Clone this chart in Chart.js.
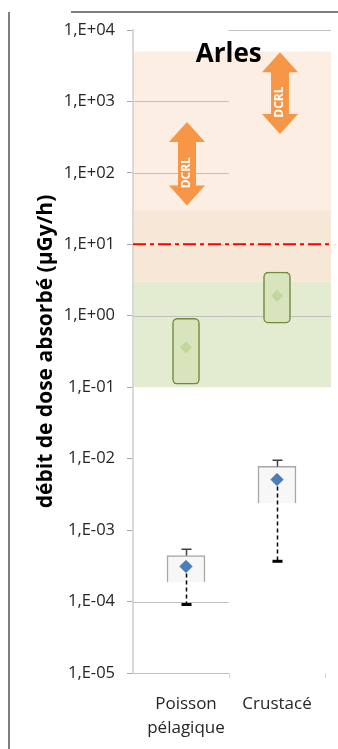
<!DOCTYPE html>
<html>
<head>
<meta charset="utf-8">
<script src="https://cdn.jsdelivr.net/npm/chart.js@4.4.0/dist/chart.umd.min.js"></script>
<style>
  body { margin: 0; background: #fff; }
  #box { width: 338px; height: 749px; position: relative; }
</style>
</head>
<body>
<div id="box"><canvas id="myChart"></canvas></div>
<script>
// categories et graduations
const categories = [['Poisson', 'pélagique'], ['Crustacé']]
const yTicks = [1e-5, 1e-4, 1e-3, 1e-2, 1e-1, 1, 10, 100, 1000, 10000]

// boites vertes (haut)
const greenLow = [0.11, 0.79]
const greenHigh = [0.92, 4.1]
const greenMean = [0.36, 1.9]

// boites grises (bas) + barres d'erreur
const boxLow = [1.86e-4, 2.37e-3]
const boxHigh = [4.4e-4, 7.8e-3]
const meanValues = [3.1e-4, 5.1e-3]
const errMax = [5.4e-4, 9.5e-3]
const errMin = [9.1e-5, 3.66e-4]

// fleches DCRL
const dcrlLow = [35, 350]
const dcrlHigh = [515, 4900]

// niveau de reference (ligne rouge)
const refLevel = 10

// bandes de fond [bas, haut]
const bands = [[30, 5000], [3, 30], [0.1, 3]]
const bandColors = ['#FDEEE3', '#F6E7D6', '#E3EBD1']

// lignes de grille (moitie gauche / moitie droite)
const gridLeft = [1000, 100, 1, 1e-4, 1e-5]
const gridRight = [10000, 1]

const xMin = 0.4176
const xMax = 2.5934
const xSplit = 1.47

function formatExp(v) {
    let e = Math.round(Math.log10(v))
    let signe = e < 0 ? '-' : '+'
    return '1,E' + signe + String(Math.abs(e)).padStart(2, '0')
}

function drawArrow(ctx, xc, yTop, yBot) {
    ctx.save()
    ctx.fillStyle = '#F79646'
    ctx.beginPath()
    ctx.moveTo(xc, yTop)
    ctx.lineTo(xc + 18, yTop + 20)
    ctx.lineTo(xc + 9, yTop + 20)
    ctx.lineTo(xc + 9, yBot - 20)
    ctx.lineTo(xc + 18, yBot - 20)
    ctx.lineTo(xc, yBot)
    ctx.lineTo(xc - 18, yBot - 20)
    ctx.lineTo(xc - 9, yBot - 20)
    ctx.lineTo(xc - 9, yTop + 20)
    ctx.lineTo(xc - 18, yTop + 20)
    ctx.closePath()
    ctx.fill()
    // texte DCRL
    ctx.translate(xc, (yTop + yBot) / 2 + 9)
    ctx.rotate(-Math.PI / 2)
    ctx.fillStyle = '#fff'
    ctx.font = 'bold 12px "Open Sans"'
    ctx.textAlign = 'center'
    ctx.textBaseline = 'middle'
    ctx.fillText('DCRL', 0, 0)
    ctx.restore()
}

const dessins = {
    id: 'dessins',
    beforeDatasetsDraw(chart) {
        const { ctx, chartArea, scales: { x, y } } = chart
        ctx.save()
        // bandes
        bands.forEach((b, i) => {
            let top = y.getPixelForValue(b[1])
            let bot = y.getPixelForValue(b[0])
            ctx.fillStyle = bandColors[i]
            ctx.fillRect(chartArea.left + 1, top, chartArea.right - chartArea.left - 1, bot - top)
        })
        // grille
        ctx.strokeStyle = '#BFBFBF'
        ctx.lineWidth = 1
        let mid = x.getPixelForValue(xSplit)
        gridLeft.forEach(v => {
            let py = Math.round(y.getPixelForValue(v)) + 0.5
            ctx.beginPath()
            ctx.moveTo(chartArea.left, py)
            ctx.lineTo(mid, py)
            ctx.stroke()
        })
        gridRight.forEach(v => {
            let py = Math.round(y.getPixelForValue(v)) + 0.5
            ctx.beginPath()
            ctx.moveTo(mid, py)
            ctx.lineTo(chartArea.right, py)
            ctx.stroke()
        })
        // petites marques sous l'axe x
        ctx.strokeStyle = '#D9D9D9'
        ;[xSplit, xMax - 0.07].forEach(v => {
            let px = Math.round(x.getPixelForValue(v)) + 0.5
            ctx.beginPath()
            ctx.moveTo(px, chartArea.bottom)
            ctx.lineTo(px, chartArea.bottom + 5)
            ctx.stroke()
        })
        ctx.restore()
    },
    afterDatasetDraw(chart, args) {
        // barres d'erreur apres les boites grises
        if (args.index !== 1) return
        const { ctx, scales: { x, y } } = chart
        ctx.save()
        categories.forEach((c, i) => {
            let px = Math.round(x.getPixelForValue(i + 1)) + 0.5
            let yTopBox = y.getPixelForValue(boxHigh[i])
            let yMax = y.getPixelForValue(errMax[i])
            let yMean = y.getPixelForValue(meanValues[i])
            let yMin = y.getPixelForValue(errMin[i])
            ctx.strokeStyle = '#404040'
            ctx.lineWidth = 1.5
            ctx.beginPath()
            ctx.moveTo(px, yTopBox)
            ctx.lineTo(px, yMax)
            ctx.moveTo(px - 5, yMax)
            ctx.lineTo(px + 5, yMax)
            ctx.stroke()
            ctx.strokeStyle = '#000'
            ctx.setLineDash([4, 3])
            ctx.beginPath()
            ctx.moveTo(px, yMean)
            ctx.lineTo(px, yMin)
            ctx.stroke()
            ctx.setLineDash([])
            ctx.lineWidth = 3
            ctx.beginPath()
            ctx.moveTo(px - 5, yMin)
            ctx.lineTo(px + 5, yMin)
            ctx.stroke()
        })
        ctx.restore()
    },
    afterDatasetsDraw(chart) {
        const { ctx, chartArea, scales: { x, y } } = chart
        categories.forEach((c, i) => {
            drawArrow(ctx, x.getPixelForValue(i + 1) + 1 + i * 2, y.getPixelForValue(dcrlHigh[i]), y.getPixelForValue(dcrlLow[i]))
        })
        ctx.save()
        // titre
        ctx.fillStyle = '#000'
        ctx.font = 'bold 26px "Open Sans"'
        ctx.textAlign = 'center'
        ctx.textBaseline = 'alphabetic'
        ctx.fillText('Arles', x.getPixelForValue(1.47), chartArea.top + 32)
        // cadre
        ctx.strokeStyle = '#7F7F7F'
        ctx.lineWidth = 2
        ctx.beginPath()
        ctx.moveTo(71, 12)
        ctx.lineTo(338, 12)
        ctx.moveTo(9, 12)
        ctx.lineTo(9, 749)
        ctx.stroke()
        ctx.restore()
    }
}

const xy = (vals) => vals.map((v, i) => ({ x: i + 1, y: v }))

const ctx = document.getElementById('myChart')
new Chart(ctx, {
    data: {
        datasets: [
            {
                type: 'bar',
                data: categories.map((c, i) => ({ x: i + 1, y: [greenLow[i], greenHigh[i]] })),
                backgroundColor: '#D8E4BC',
                borderColor: '#6E8A3A',
                borderWidth: 1.5,
                borderRadius: 5,
                borderSkipped: false,
                barThickness: 27,
                grouped: false,
                order: 3
            },
            {
                type: 'bar',
                data: categories.map((c, i) => ({ x: i + 1, y: [boxLow[i], boxHigh[i]] })),
                backgroundColor: '#F7F7F7',
                borderColor: '#A6A6A6',
                borderWidth: 1.5,
                borderSkipped: 'bottom',
                barThickness: 38,
                grouped: false,
                order: 3
            },
            {
                type: 'line',
                data: [{ x: xMin, y: refLevel }, { x: xMax, y: refLevel }],
                borderColor: '#FF0000',
                borderWidth: 2,
                borderDash: [13, 4, 4, 4],
                pointRadius: 0,
                order: 2
            },
            {
                type: 'scatter',
                data: xy(greenMean),
                pointStyle: 'rectRot',
                pointRadius: 5.5,
                backgroundColor: '#C4D79B',
                borderColor: '#C4D79B',
                order: 0
            },
            {
                type: 'scatter',
                data: xy(meanValues),
                pointStyle: 'rectRot',
                pointRadius: 6,
                backgroundColor: '#4A7EBB',
                borderColor: '#3A6AA5',
                borderWidth: 1,
                order: 0
            }
        ]
    },
    options: {
        responsive: true,
        maintainAspectRatio: false,
        animation: false,
        layout: { padding: { top: 30, right: 7, bottom: 0, left: 0 } },
        plugins: { legend: { display: false }, tooltip: { enabled: false } },
        scales: {
            x: {
                type: 'linear',
                min: xMin,
                max: xMax,
                offset: false,
                afterFit: (s) => { s.height = 76 },
                afterBuildTicks: (s) => { s.ticks = categories.map((c, i) => ({ value: i + 1 })) },
                ticks: {
                    callback: (v) => categories[v - 1],
                    font: { family: 'Open Sans', size: 17, lineHeight: 1.4 },
                    color: '#262626',
                    padding: 19,
                    maxRotation: 0,
                    autoSkip: false
                },
                grid: { display: false, drawTicks: false },
                border: { display: false }
            },
            y: {
                type: 'logarithmic',
                min: 1e-5,
                max: 1e4,
                afterFit: (s) => { s.width = 133 },
                afterBuildTicks: (s) => { s.ticks = yTicks.map(v => ({ value: v })) },
                ticks: {
                    callback: (v) => formatExp(v),
                    font: { family: 'Open Sans', size: 16.5 },
                    color: '#262626',
                    padding: 12,
                    autoSkip: false
                },
                grid: { drawOnChartArea: false, tickLength: 6, color: '#A6A6A6' },
                border: { color: '#D9D9D9', width: 2 },
                title: {
                    display: true,
                    text: 'débit de dose absorbé (µGy/h)',
                    font: { family: 'Open Sans', size: 21, weight: 'bold' },
                    color: '#000',
                    padding: { top: 33, bottom: 0 }
                }
            }
        }
    },
    plugins: [dessins]
})
</script>
</body>
</html>
